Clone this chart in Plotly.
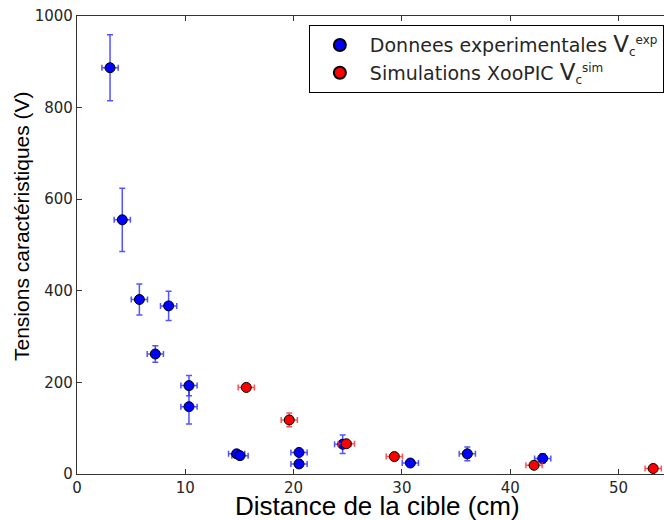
import plotly.graph_objects as go

# Experimental data (Vc exp)
exp_x = [3.05, 4.18, 5.76, 7.23, 8.46, 10.34, 10.34, 14.74, 15.05, 20.5, 20.5, 24.53, 30.78, 36.04, 43.0]
exp_y = [887, 555, 381, 262, 367, 193, 147, 44, 40, 47, 22, 65, 24, 44, 34]
exp_yerr = [72, 69, 34, 18, 32, 22, 38, 5, 5, 5, 5, 20, 5, 15, 10]
exp_xerr = [0.75] * len(exp_x)

# Simulation data (Vc sim)
sim_x = [15.63, 19.6, 24.87, 29.3, 42.2, 53.2]
sim_y = [189, 118, 66, 38, 19, 12]
sim_yerr = [5, 15, 5, 5, 5, 5]
sim_xerr = [0.75] * len(sim_x)

x_ticks = [0, 10, 20, 30, 40, 50]
y_ticks = [0, 200, 400, 600, 800, 1000]

TXT = "#262626"


def vc_label(prefix, sup):
    return (prefix + ' <span style="font-size:23px">V</span>'
            '<sub><span style="font-size:12px">c</span></sub>'
            '<sup><span style="font-size:12px">' + sup + '</span></sup>')


fig = go.Figure()
fig.add_trace(go.Scatter(
    x=exp_x, y=exp_y, mode="markers",
    name=vc_label("Donnees experimentales", "exp"),
    marker=dict(color="#0000ff", size=10, line=dict(color="black", width=1)),
    error_y=dict(type="data", array=exp_yerr, color="rgba(40,40,255,0.8)", thickness=1.5, width=3),
    error_x=dict(type="data", array=exp_xerr, color="rgba(40,40,255,0.8)", thickness=1.5, width=3),
))
fig.add_trace(go.Scatter(
    x=sim_x, y=sim_y, mode="markers",
    name=vc_label("Simulations XooPIC", "sim"),
    marker=dict(color="#ff0000", size=10, line=dict(color="black", width=1)),
    error_y=dict(type="data", array=sim_yerr, color="rgba(255,40,40,0.8)", thickness=1.5, width=3),
    error_x=dict(type="data", array=sim_xerr, color="rgba(255,40,40,0.8)", thickness=1.5, width=3),
))

axis_common = dict(
    showgrid=False, zeroline=False, showline=True, linecolor="#333333", linewidth=1.3,
    ticks="inside", ticklen=5, tickwidth=1, tickcolor="#333333",
    tickfont=dict(family="DejaVu Sans", size=15, color=TXT), automargin=False,
)

fig.update_layout(
    width=664, height=520,
    margin=dict(l=77, r=0, t=16, b=46, autoexpand=False),
    paper_bgcolor="white", plot_bgcolor="white",
    xaxis=dict(axis_common, range=[0, 54.2], tickvals=x_ticks, mirror="ticks"),
    yaxis=dict(axis_common, range=[0, 1000], tickvals=y_ticks, mirror=False),
    legend=dict(x=0.395, y=0.98, xanchor="left", yanchor="top",
                bordercolor="black", borderwidth=1, bgcolor="white",
                font=dict(family="DejaVu Sans", size=19, color=TXT),
                itemsizing="constant", itemwidth=50, tracegroupgap=0),
    showlegend=True,
    annotations=[
        dict(text="Distance de la cible (cm)", xref="paper", yref="paper",
             x=0.512, y=-0.069, xanchor="center", yanchor="middle", showarrow=False,
             font=dict(family="Liberation Sans", size=26, color="black")),
        dict(text="Tensions caractéristiques (V)", xref="paper", yref="paper",
             x=-0.0937, y=0.5415, xanchor="center", yanchor="middle", showarrow=False,
             textangle=-90, font=dict(family="Liberation Sans", size=21, color="black")),
    ],
)

fig.write_html("out.html", config={"displayModeBar": False},
               post_script="document.body.style.margin='0';")
